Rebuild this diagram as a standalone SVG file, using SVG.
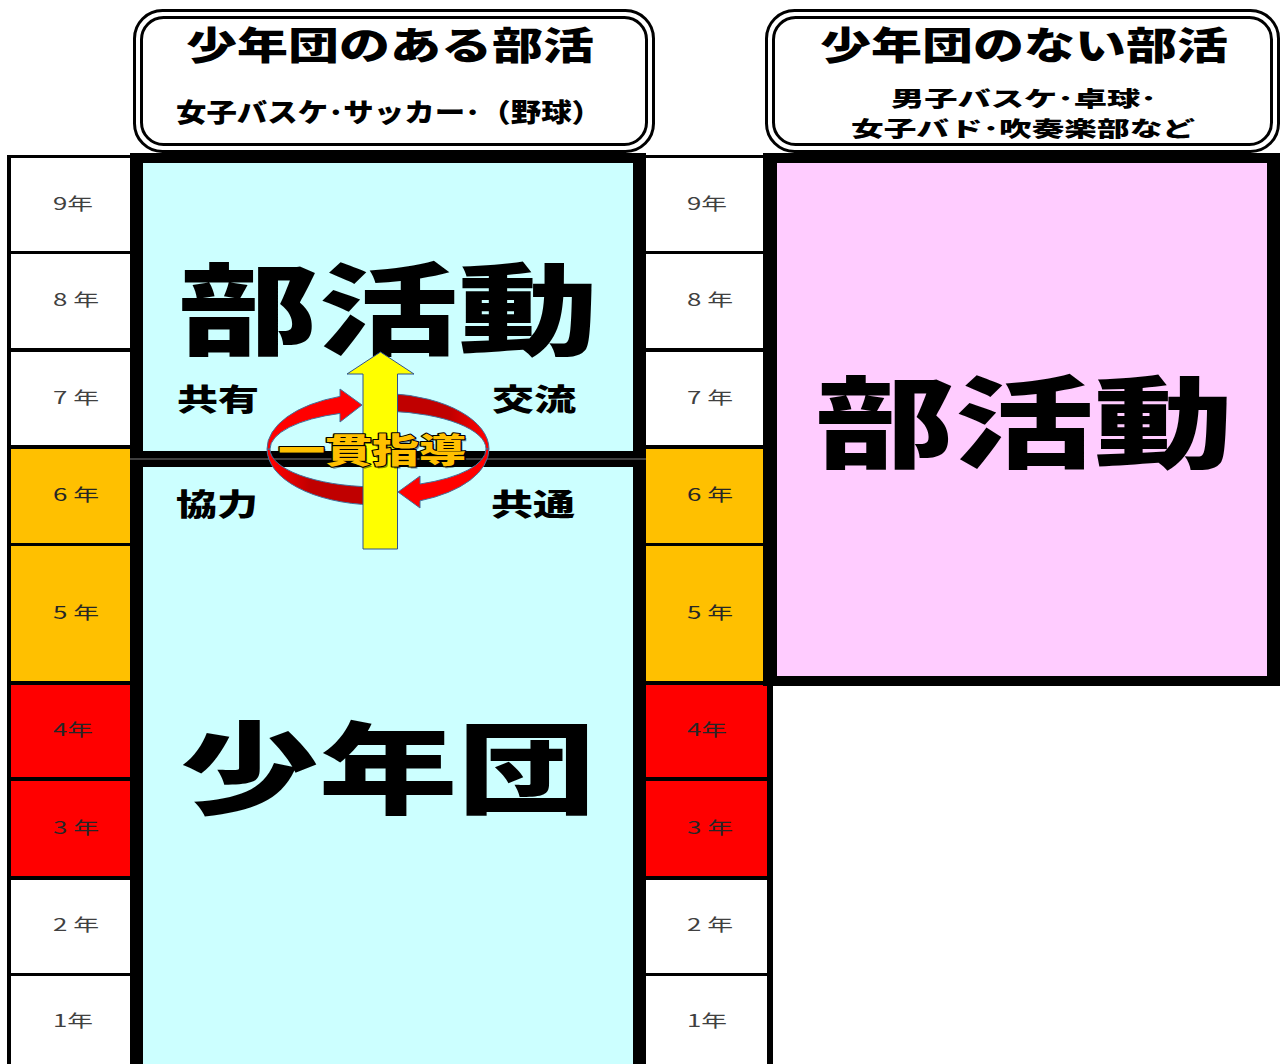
<svg xmlns="http://www.w3.org/2000/svg" width="1282" height="1064" viewBox="0 0 1282 1064">
<style>
.hv{font-family:"Noto Sans CJK JP","Noto Sans CJK SC",sans-serif;font-weight:900;fill:#000}
.gr{font-family:"Noto Sans CJK JP","Noto Sans CJK SC",sans-serif;font-weight:400;font-size:17px;fill:#404040}
.grd{font-family:"Noto Sans CJK JP","Noto Sans CJK SC",sans-serif;font-weight:400;font-size:17px;fill:#262626}
.hdr{fill:#fff;stroke:#000;stroke-width:3}
.w{fill:#fff}.o{fill:#FFC000}.r{fill:#FF0000}
.ring{stroke:#41719C;stroke-width:1}
</style>
<defs>
<linearGradient id="gLL" gradientUnits="userSpaceOnUse" x1="272" y1="0" x2="310" y2="0"><stop offset="0" stop-color="#FF0000"/><stop offset="1" stop-color="#C00000"/></linearGradient>
<linearGradient id="gUR" gradientUnits="userSpaceOnUse" x1="450" y1="0" x2="485" y2="0"><stop offset="0" stop-color="#C00000"/><stop offset="1" stop-color="#FF0000"/></linearGradient>
</defs>
<rect width="1282" height="1064" fill="#fff"/>

<g id="header-left">
<rect class="hdr" x="134.5" y="10.5" width="519" height="141" rx="28"/>
<rect class="hdr" x="141.5" y="17.5" width="505" height="127" rx="22"/>
<text class="hv" x="186" y="59" font-size="38" textLength="408" lengthAdjust="spacingAndGlyphs">少年団のある部活</text>
<text class="hv" x="176" y="122" font-size="26" textLength="426" lengthAdjust="spacingAndGlyphs">女子バスケ･サッカー･（野球）</text>
</g>

<g id="header-right">
<rect class="hdr" x="766.5" y="10.5" width="512" height="141" rx="28"/>
<rect class="hdr" x="773.5" y="17.5" width="498" height="127" rx="22"/>
<text class="hv" x="820" y="59" font-size="38" textLength="408" lengthAdjust="spacingAndGlyphs">少年団のない部活</text>
<text class="hv" x="891" y="106" font-size="21" textLength="266" lengthAdjust="spacingAndGlyphs">男子バスケ･卓球･</text>
<text class="hv" x="851" y="136" font-size="21" textLength="344" lengthAdjust="spacingAndGlyphs">女子バド･吹奏楽部など</text>
</g>

<g id="grade-left">
<rect x="7" y="155" width="124" height="909" fill="#000"/>
<rect class="w" x="11" y="158" width="119" height="93"/>
<rect class="w" x="11" y="254" width="119" height="94"/>
<rect class="w" x="11" y="352" width="119" height="93"/>
<rect class="o" x="11" y="449" width="119" height="94"/>
<rect class="o" x="11" y="546" width="119" height="135"/>
<rect class="r" x="11" y="685" width="119" height="92"/>
<rect class="r" x="11" y="781" width="119" height="95"/>
<rect class="w" x="11" y="880" width="119" height="93"/>
<rect class="w" x="11" y="976" width="119" height="88"/>
<text class="gr" x="53" y="210" textLength="40" lengthAdjust="spacingAndGlyphs">9年</text>
<text class="gr" x="53" y="306" textLength="46" lengthAdjust="spacingAndGlyphs">8 年</text>
<text class="gr" x="53" y="404" textLength="46" lengthAdjust="spacingAndGlyphs">7 年</text>
<text class="grd" x="53" y="501" textLength="46" lengthAdjust="spacingAndGlyphs">6 年</text>
<text class="grd" x="53" y="619" textLength="46" lengthAdjust="spacingAndGlyphs">5 年</text>
<text class="grd" x="53" y="736" textLength="40" lengthAdjust="spacingAndGlyphs">4年</text>
<text class="grd" x="53" y="834" textLength="46" lengthAdjust="spacingAndGlyphs">3 年</text>
<text class="gr" x="53" y="931" textLength="46" lengthAdjust="spacingAndGlyphs">2 年</text>
<text class="gr" x="53" y="1027" textLength="40" lengthAdjust="spacingAndGlyphs">1年</text>
</g>

<g id="grade-middle">
<rect x="640" y="155" width="133" height="909" fill="#000"/>
<rect class="w" x="646" y="158" width="118" height="93"/>
<rect class="w" x="646" y="254" width="118" height="94"/>
<rect class="w" x="646" y="352" width="118" height="93"/>
<rect class="o" x="646" y="449" width="118" height="94"/>
<rect class="o" x="646" y="546" width="118" height="135"/>
<rect class="r" x="646" y="685" width="121" height="92"/>
<rect class="r" x="646" y="781" width="121" height="95"/>
<rect class="w" x="646" y="880" width="121" height="93"/>
<rect class="w" x="646" y="976" width="121" height="88"/>
<text class="gr" x="687" y="210" textLength="40" lengthAdjust="spacingAndGlyphs">9年</text>
<text class="gr" x="687" y="306" textLength="46" lengthAdjust="spacingAndGlyphs">8 年</text>
<text class="gr" x="687" y="404" textLength="46" lengthAdjust="spacingAndGlyphs">7 年</text>
<text class="grd" x="687" y="501" textLength="46" lengthAdjust="spacingAndGlyphs">6 年</text>
<text class="grd" x="687" y="619" textLength="46" lengthAdjust="spacingAndGlyphs">5 年</text>
<text class="grd" x="687" y="736" textLength="40" lengthAdjust="spacingAndGlyphs">4年</text>
<text class="grd" x="687" y="834" textLength="46" lengthAdjust="spacingAndGlyphs">3 年</text>
<text class="gr" x="687" y="931" textLength="46" lengthAdjust="spacingAndGlyphs">2 年</text>
<text class="gr" x="687" y="1027" textLength="40" lengthAdjust="spacingAndGlyphs">1年</text>
</g>

<g id="box-shonendan-bukatsu">
<rect x="130" y="153" width="516" height="911" fill="#000"/>
<rect x="143" y="163" width="490" height="288" fill="#CCFFFF"/>
<rect x="143" y="467" width="490" height="597" fill="#CCFFFF"/>
<line x1="130" y1="459" x2="646" y2="459" stroke="#7F7F7F" stroke-width="1"/>
<text class="hv" x="178" y="347" font-size="100" textLength="420" lengthAdjust="spacingAndGlyphs">部活動</text>
<text class="hv" x="180" y="806" font-size="100" textLength="416" lengthAdjust="spacingAndGlyphs">少年団</text>
<text class="hv" x="177" y="410" font-size="30" textLength="82" lengthAdjust="spacingAndGlyphs">共有</text>
<text class="hv" x="492" y="410" font-size="30" textLength="84" lengthAdjust="spacingAndGlyphs">交流</text>
<text class="hv" x="176" y="515" font-size="30" textLength="82" lengthAdjust="spacingAndGlyphs">協力</text>
<text class="hv" x="491" y="515" font-size="30" textLength="84" lengthAdjust="spacingAndGlyphs">共通</text>
</g>

<g id="box-bukatsu-only">
<rect x="763" y="153" width="517" height="533" fill="#000"/>
<rect x="777" y="163" width="490" height="513" fill="#FFCCFF"/>
<text class="hv" x="815" y="460" font-size="100" textLength="418" lengthAdjust="spacingAndGlyphs">部活動</text>
</g>

<g id="connectors">
<path class="ring" fill="url(#gUR)" d="M390 393.5 A111 56 0 0 1 489 449 L486 449 A108 38 0 0 0 390 411.2 Z"/>
<path class="ring" fill="url(#gLL)" d="M267 449 A111 56 0 0 0 372 504.9 L372 486.9 A108 38 0 0 1 270 449 Z"/>
<path class="ring" fill="#FF0000" d="M267 449 A111 56 0 0 1 340 396.4 L340 389 L362 405 L340 422 L340 413.4 A108 38 0 0 0 270 449 Z"/>
<path class="ring" fill="#FF0000" d="M420 500.8 L420 508 L398 492 L420 476 L420 484 A108 38 0 0 0 486 449 L489 449 A111 56 0 0 1 420 500.8 Z"/>
<polygon points="380.5,352 414,374 397.5,374 397.5,549 363,549 363,374 347,374" fill="#FFFF00" stroke="#2F528F" stroke-width="1"/>
</g>

<g id="label-ikkan">
<text class="hv" x="280" y="465" font-size="34" textLength="188" lengthAdjust="spacingAndGlyphs" style="fill:#000;opacity:0.45">一貫指導</text>
<text class="hv" x="278" y="463" font-size="34" textLength="188" lengthAdjust="spacingAndGlyphs" style="fill:#FFC000;stroke:#000;stroke-width:2;paint-order:stroke;stroke-linejoin:round">一貫指導</text>
</g>
</svg>
